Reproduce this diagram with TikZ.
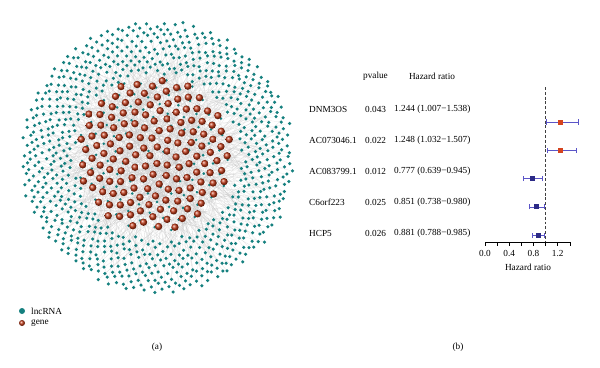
\documentclass[tikz,border=0pt]{standalone}
\usepackage{fontspec}
\setmainfont{Liberation Serif}
\definecolor{lncteal}{HTML}{15807F}
\definecolor{genered}{HTML}{C23A18}
\definecolor{hrred}{HTML}{D5431E}
\definecolor{hrnavy}{HTML}{2C2A86}
\definecolor{cibar}{HTML}{5B55C8}

\begin{document}
\begin{tikzpicture}[x=0.03cm, y=-0.03cm]
    % ================= styles =================
    \tikzset{
        % small text of the plot
        lbl/.style={font=\fontsize{7.9}{9}\selectfont, inner sep=0pt},
        % faint edges of the network
        web/.style={line width=0.15pt, gray!50, opacity=0.5},
        % lncRNA dots
        lnc/.style={fill=lncteal},
        % gene balls
        gene/.style={shading=ball, ball color=genered},
        % confidence bars
        ci/.style={line width=0.5pt, cibar}
    }
    \useasboundingbox (0,0) rectangle (600,367);
    \pgfmathsetseed{11}

    % ================= (a) network =================
    \begin{scope}
        % gene positions (sunflower inside the core)
        \foreach \j in {1,...,150} {
            \pgfmathsetmacro{\r}{77*sqrt((\j-0.5)/150)}
            \pgfmathsetmacro{\a}{360*frac(\j*0.381966)+20}
            \coordinate (g\j) at ([shift={(\a:\r)}]154,154);
        }
        % lncRNA positions (outer ring)
        \foreach \i in {1,...,820} {
            \pgfmathsetmacro{\r}{10*sqrt(68.89+116.07*(\i/820))+2*rand}
            \pgfmathsetmacro{\a}{360*frac(\i*0.381966)}
            \coordinate (t\i) at ([shift={(\a:\r)}]157,157);
        }
        % lncRNA positions among the genes
        \foreach \i in {1,...,110} {
            \pgfmathsetmacro{\r}{78*sqrt((\i-0.3)/110)}
            \pgfmathsetmacro{\a}{360*frac(\i*0.381966)+71}
            \coordinate (u\i) at ([shift={(\a:\r)}]154,154);
        }

        % edges
        \foreach \i in {1,...,820} {
            \pgfmathtruncatemacro{\k}{random(1,150)}
            \draw[web] (t\i) -- (g\k);
        }

        % dots
        \foreach \i in {1,...,820} \fill[lnc] (t\i) circle (1.75);
        \foreach \i in {1,...,110} \fill[lnc] (u\i) circle (1.4);
        \foreach \j in {1,...,150} \shade[gene] (g\j) circle (3.7);

        % legend
        \fill[lnc] (22,311) circle (3);
        \shade[gene] (22,323) circle (3);
        \node[lbl, anchor=west] (leglnc) at (31,311) {lncRNA};
        \node[lbl, anchor=west] (leggene) at (31,323) {gene};

        \node[lbl] (capa) at (157,347) {(a)};
    \end{scope}

    % ================= (b) forest plot =================
    \begin{scope}
        \node[lbl] (hpv) at (375.5,76) {pvalue};
        \node[lbl] (hhr) at (432,76) {Hazard ratio};

        % reference line at HR = 1
        \draw[dash pattern=on 2.5pt off 1.6pt, line width=0.5pt, black!75] (545.6,87) -- (545.6,242);

        \foreach \name/\pv/\hr/\lo/\hi/\col [count=\k] in {
            DNM3OS/0.043/1.244/1.007/1.538/hrred,
            AC073046.1/0.022/1.248/1.032/1.507/hrred,
            AC083799.1/0.012/0.777/0.639/0.945/hrnavy,
            C6orf223/0.025/0.851/0.738/0.980/hrnavy,
            HCP5/0.026/0.881/0.788/0.985/hrnavy} {
            \pgfmathsetmacro{\ty}{109+31*(\k-1)}
            \pgfmathsetmacro{\py}{122+28.3*(\k-1)}
            \node[lbl, anchor=west] (n\k) at (309,\ty) {\name};
            \node[lbl, anchor=west] (p\k) at (365,\ty) {\pv};
            \node[lbl, anchor=west] (h\k) at (394,\ty) {\hr\ (\lo−\hi)};
            \coordinate (lo\k) at (485+60.6*\lo,\py);
            \coordinate (hi\k) at (485+60.6*\hi,\py);
            \coordinate (m\k) at (485+60.6*\hr,\py);
            \draw[ci] (lo\k) -- (hi\k);
            \draw[ci] ([yshift=-2.2]lo\k) -- ([yshift=2.2]lo\k);
            \draw[ci] ([yshift=-2.2]hi\k) -- ([yshift=2.2]hi\k);
            \fill[\col] ([shift={(-2.5,-2.5)}]m\k) rectangle ([shift={(2.5,2.5)}]m\k);
        }

        % axis
        \coordinate (ax0) at (485,242);
        \coordinate (ax1) at (569.8,242);
        \draw[line width=0.5pt] (ax0) -- (ax1);
        \foreach \v in {0,1,...,7}
            \draw[line width=0.5pt] (485+12.12*\v,242) -- ++(0,3.5);
        \foreach \v/\t in {0/0.0,2/0.4,4/0.8,6/1.2}
            \node[lbl] (tk\v) at (485+12.12*\v,253) {\t};
        \node[lbl] (xlab) at (528,267) {Hazard ratio};

        \node[lbl] (capb) at (458,347) {(b)};
    \end{scope}
\end{tikzpicture}
\end{document}
